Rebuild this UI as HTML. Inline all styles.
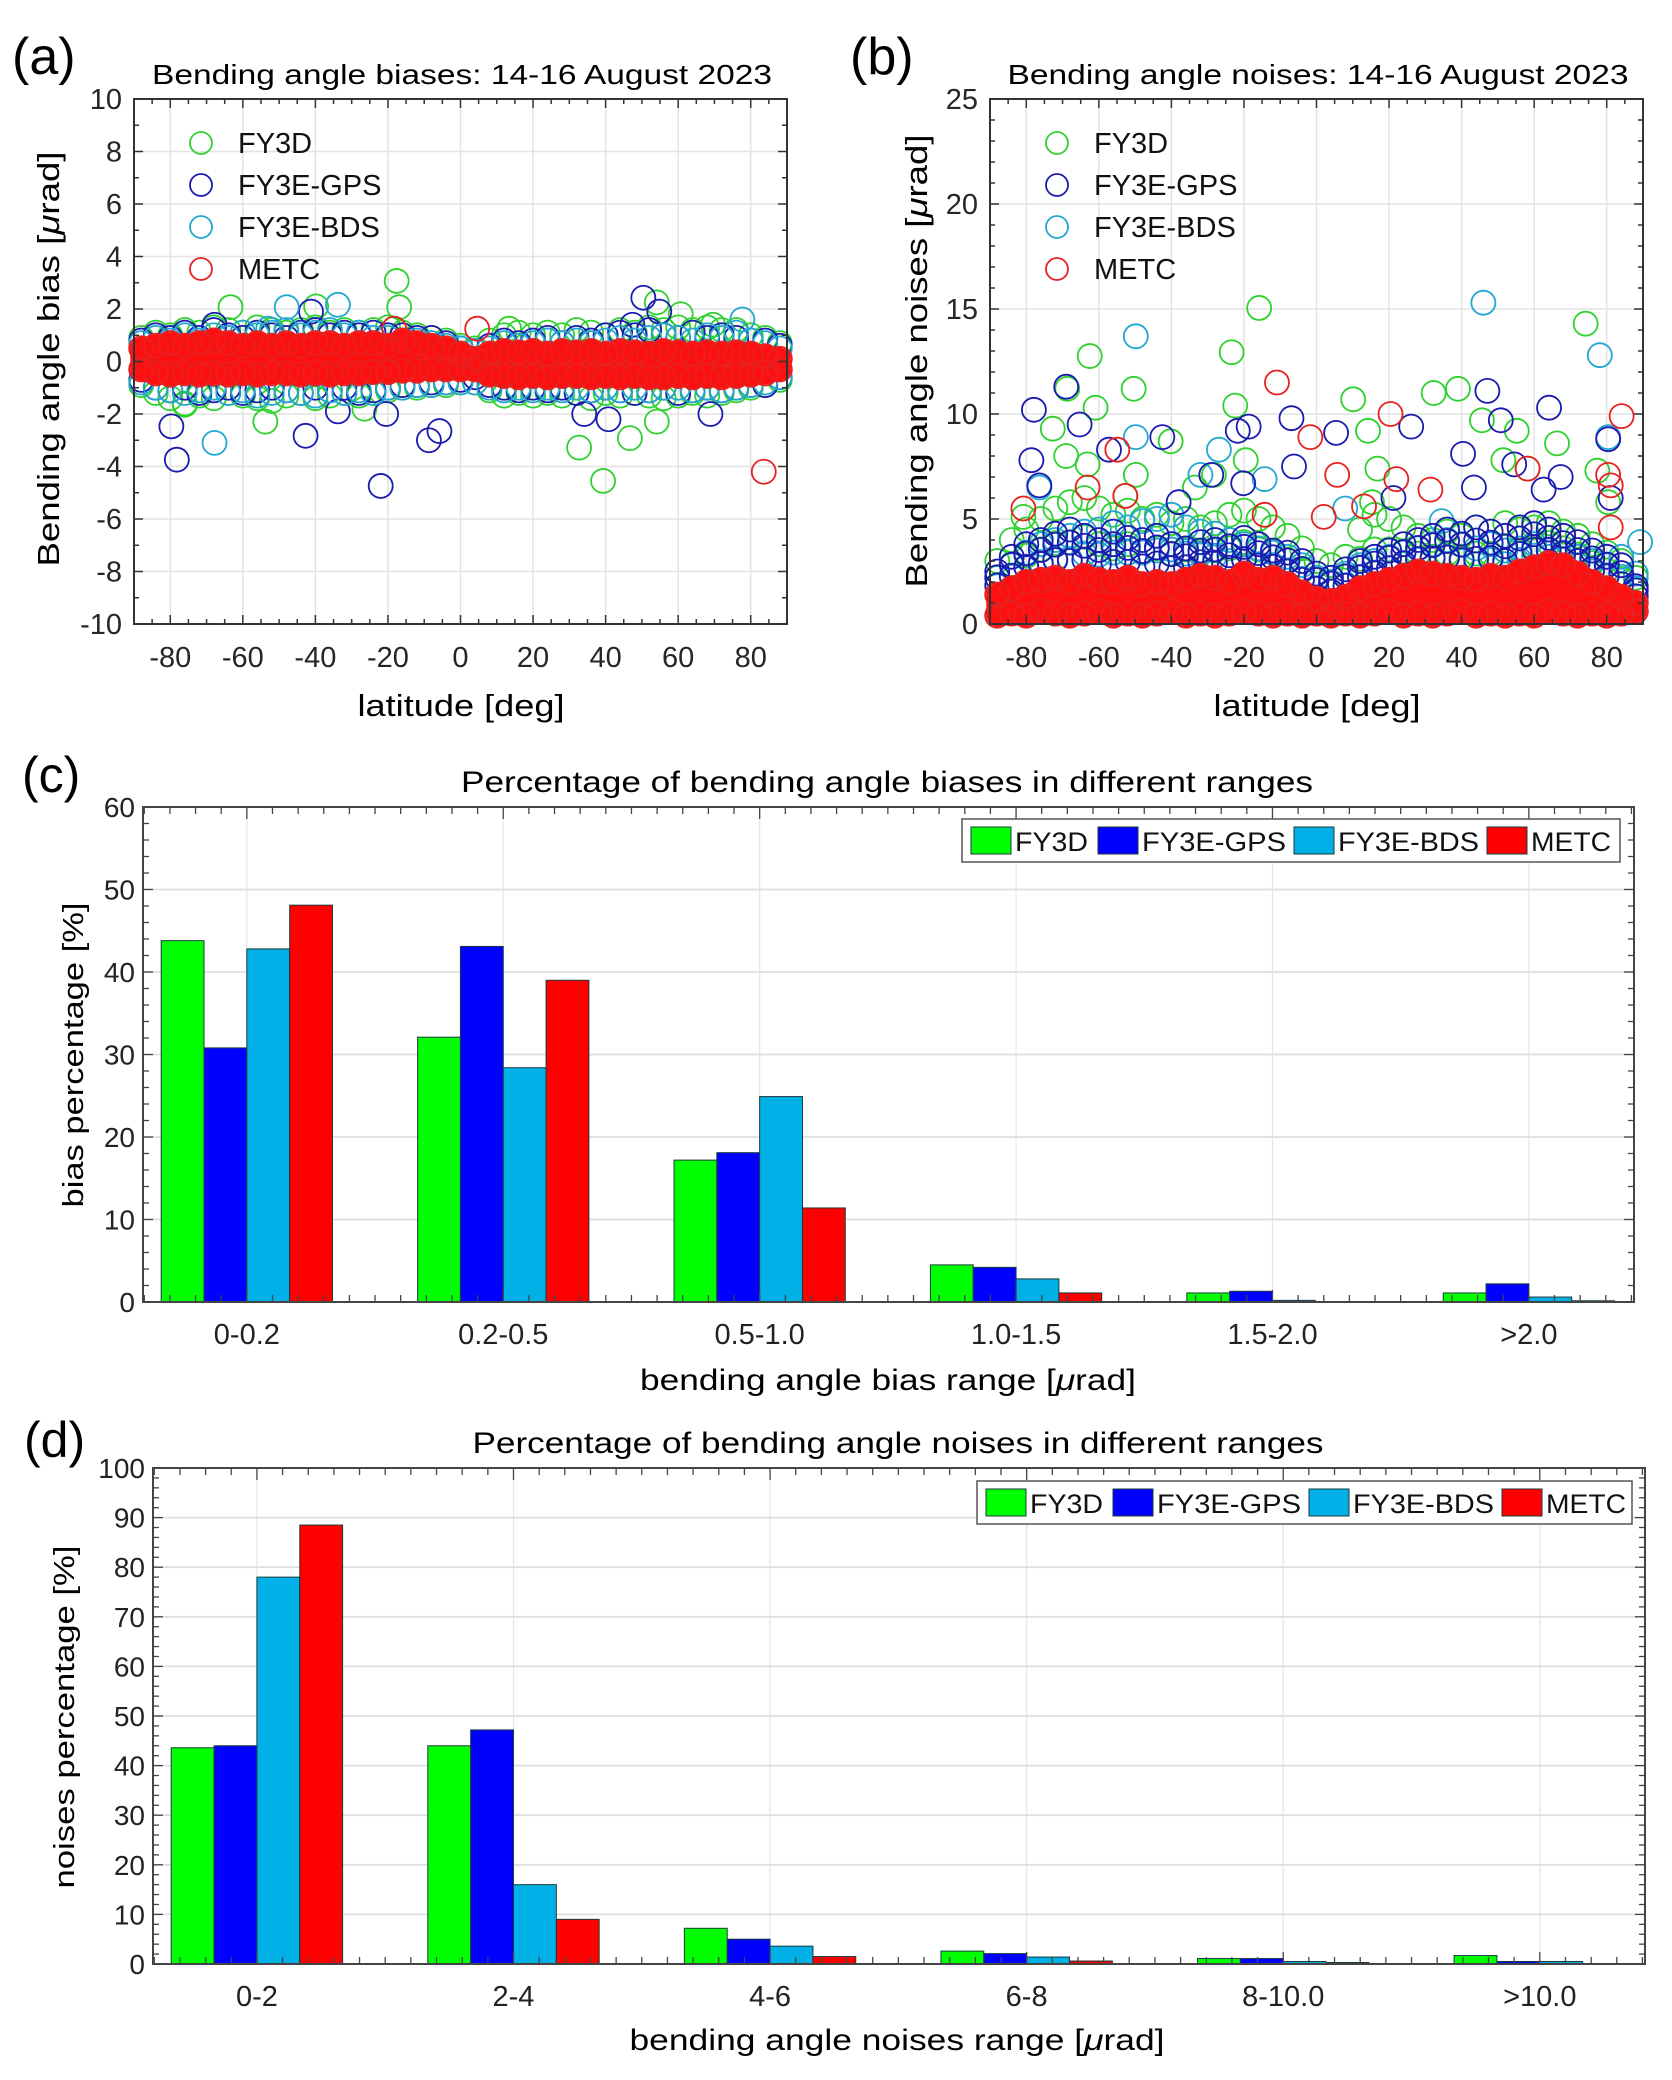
<!DOCTYPE html>
<html><head><meta charset="utf-8"><title>Bending angle biases and noises</title>
<style>
html,body{margin:0;padding:0;background:#fff;}
svg{display:block;font-family:"Liberation Sans",Arial,sans-serif;}
</style></head>
<body>
<svg id="fig" xmlns="http://www.w3.org/2000/svg" width="1672" height="2080" viewBox="0 0 1672 2080">
<rect x="0" y="0" width="1672" height="2080" fill="#fff"/>
<!-- panel labels -->
<text x="12" y="74" font-size="52">(a)</text>
<text x="850" y="74" font-size="52">(b)</text>
<text x="22" y="792" font-size="50">(c)</text>
<text x="24" y="1457" font-size="50">(d)</text>
<!-- titles -->
<text x="462" y="84" font-size="28" text-anchor="middle" textLength="620" lengthAdjust="spacingAndGlyphs">Bending angle biases: 14-16 August 2023</text>
<text x="1318" y="84" font-size="28" text-anchor="middle" textLength="621" lengthAdjust="spacingAndGlyphs">Bending angle noises: 14-16 August 2023</text>
<text x="887" y="792" font-size="30" text-anchor="middle" textLength="852" lengthAdjust="spacingAndGlyphs">Percentage of bending angle biases in different ranges</text>
<text x="898" y="1453" font-size="30" text-anchor="middle" textLength="851" lengthAdjust="spacingAndGlyphs">Percentage of bending angle noises in different ranges</text>
<!-- axis labels -->
<text transform="translate(59,359) rotate(-90)" font-size="31" text-anchor="middle" textLength="415" lengthAdjust="spacingAndGlyphs">Bending angle bias [<tspan font-style="italic">μ</tspan>rad]</text>
<text x="461" y="716" font-size="31" text-anchor="middle" textLength="207" lengthAdjust="spacingAndGlyphs">latitude [deg]</text>
<text transform="translate(927,361) rotate(-90)" font-size="31" text-anchor="middle" textLength="453" lengthAdjust="spacingAndGlyphs">Bending angle noises [<tspan font-style="italic">μ</tspan>rad]</text>
<text x="1317" y="716" font-size="31" text-anchor="middle" textLength="207" lengthAdjust="spacingAndGlyphs">latitude [deg]</text>
<text transform="translate(83,1055) rotate(-90)" font-size="29" text-anchor="middle" textLength="305" lengthAdjust="spacingAndGlyphs">bias percentage [%]</text>
<text x="888" y="1390" font-size="30" text-anchor="middle" textLength="496" lengthAdjust="spacingAndGlyphs">bending angle bias range [<tspan font-style="italic">μ</tspan>rad]</text>
<text transform="translate(74,1717) rotate(-90)" font-size="29" text-anchor="middle" textLength="343" lengthAdjust="spacingAndGlyphs">noises percentage [%]</text>
<text x="897" y="2050" font-size="30" text-anchor="middle" textLength="535" lengthAdjust="spacingAndGlyphs">bending angle noises range [<tspan font-style="italic">μ</tspan>rad]</text>
<g id="layer"></g>
</svg>
<script>
// ---------- data: scatter (a) biases ----------
const LAT = [-88,-84,-80,-76,-72,-68,-64,-60,-56,-52,-48,-44,-40,-36,-32,-28,-24,-20,-16,-12,-8,-4,0,4,8,12,16,20,24,28,32,36,40,44,48,52,56,60,64,68,72,76,80,84,88];
const aRedHi = [0.5,0.6,0.7,0.6,0.7,0.8,0.7,0.6,0.7,0.6,0.7,0.6,0.7,0.7,0.6,0.7,0.7,0.6,0.8,0.7,0.6,0.5,0.3,0.1,0.3,0.4,0.35,0.4,0.3,0.4,0.35,0.4,0.3,0.4,0.35,0.3,0.4,0.35,0.3,0.35,0.3,0.35,0.3,0.2,0.1];
const aRedLo = [-0.3,-0.45,-0.5,-0.45,-0.5,-0.45,-0.5,-0.45,-0.5,-0.45,-0.45,-0.5,-0.45,-0.5,-0.45,-0.45,-0.4,-0.4,-0.35,-0.35,-0.3,-0.3,-0.3,-0.3,-0.5,-0.55,-0.6,-0.55,-0.6,-0.55,-0.55,-0.6,-0.55,-0.6,-0.55,-0.6,-0.6,-0.55,-0.6,-0.55,-0.6,-0.55,-0.5,-0.45,-0.3];
const aBlueHi = [0.8,1.0,0.9,1.1,0.9,1.2,1.0,0.9,1.1,1.0,0.9,1.1,1.2,1.0,1.1,1.0,1.1,1.0,1.0,0.9,0.9,0.7,0.5,0.4,0.6,0.8,0.7,0.8,0.9,0.7,0.9,0.8,1.0,1.1,1.0,1.2,1.0,0.9,1.1,0.9,1.0,0.9,0.8,0.8,0.6];
const aBlueLo = [-0.7,-1.0,-1.1,-1.0,-1.2,-1.1,-1.0,-1.2,-1.1,-1.0,-1.1,-1.2,-1.0,-1.1,-1.0,-1.2,-1.1,-1.0,-0.9,-0.9,-0.8,-0.8,-0.7,-0.6,-0.9,-1.0,-1.1,-1.0,-1.1,-1.0,-1.2,-1.1,-1.0,-1.1,-1.2,-1.1,-1.0,-1.2,-1.1,-1.0,-1.1,-1.0,-0.9,-0.9,-0.6];
const aCyanHi = [0.7,0.9,0.8,1.0,0.8,1.0,0.9,1.1,1.0,1.1,1.2,1.0,1.1,1.2,1.0,1.1,0.9,0.9,0.8,0.8,0.7,0.6,0.5,0.4,0.5,0.7,0.6,0.7,0.8,0.7,0.8,0.7,0.8,0.9,0.8,0.9,1.0,0.9,0.8,1.0,0.9,1.1,0.8,0.7,0.5];
const aCyanLo = [-0.8,-1.0,-1.1,-1.2,-1.1,-1.0,-1.2,-1.1,-1.3,-1.2,-1.1,-1.2,-1.3,-1.1,-1.2,-1.1,-1.2,-1.0,-1.0,-0.9,-0.9,-0.8,-0.8,-0.8,-1.0,-1.1,-1.0,-1.1,-1.0,-1.1,-1.0,-1.1,-1.0,-1.1,-1.0,-1.1,-1.0,-1.0,-1.1,-1.0,-1.1,-1.0,-0.9,-0.8,-0.6];
const aGreenHi = [0.9,1.1,1.0,1.2,1.1,1.3,1.2,1.1,1.3,1.2,1.1,1.2,1.3,1.1,1.2,1.1,1.2,1.3,1.1,1.0,0.9,0.8,0.6,0.5,0.8,1.0,1.1,1.0,1.1,1.0,1.2,1.1,1.0,1.2,1.1,1.3,1.2,1.3,1.2,1.3,1.2,1.2,1.0,0.9,0.7];
const aGreenLo = [-0.9,-1.2,-1.4,-1.6,-1.3,-1.4,-1.2,-1.3,-1.4,-1.5,-1.3,-1.2,-1.4,-1.3,-1.2,-1.3,-1.2,-1.1,-1.0,-1.0,-0.9,-0.9,-0.8,-0.8,-1.1,-1.3,-1.2,-1.3,-1.2,-1.3,-1.2,-1.4,-1.2,-1.3,-1.2,-1.3,-1.4,-1.3,-1.2,-1.3,-1.2,-1.1,-1.0,-0.9,-0.7];
const aGreenOutLat = [-63.4,-17.6,-16.9,32.7,39.3,46.7,54.1,54.1,-53.8,-76,60.7,69.6,13.4,-26.5,-39.8];
const aGreenOutVal = [2.07,3.07,2.07,-3.28,-4.55,-2.92,-2.29,2.25,-2.29,-1.65,1.8,1.4,1.25,-1.8,2.1];
const aBlueOutLat = [-79.7,-78.2,-42.7,-22,-8.7,-5.8,50.4,54.8,34.1,40.8,68.9,-33.8,-20.5,-41.2,-67.8,47.4];
const aBlueOutVal = [-2.47,-3.74,-2.83,-4.74,-3.0,-2.65,2.43,1.9,-2.0,-2.2,-2.0,-1.9,-2.0,1.9,1.4,1.4];
const aCyanOutLat = [-67.8,-47.9,-33.8,77.7,-53];
const aCyanOutVal = [-3.1,2.07,2.16,1.6,1.25];
const aRedOutLat = [83.6,4.6,-18.3];
const aRedOutVal = [-4.2,1.25,1.25];

// ---------- data: scatter (b) noises ----------
const bRedHi = [1.4,1.7,2.0,2.1,2.2,2.0,2.3,2.1,2.0,2.2,1.9,2.0,1.9,2.1,2.3,2.2,2.0,2.4,2.1,2.2,1.9,1.5,1.2,1.1,1.3,1.7,1.9,2.1,2.3,2.5,2.4,2.3,2.2,2.1,2.3,2.2,2.5,2.7,2.9,2.8,2.4,2.0,1.7,1.3,1.0];
const bRedLo = [0.4,0.5,0.4,0.6,0.5,0.4,0.5,0.6,0.4,0.5,0.4,0.5,0.6,0.4,0.5,0.4,0.5,0.6,0.5,0.4,0.5,0.4,0.5,0.4,0.5,0.4,0.5,0.6,0.4,0.5,0.4,0.5,0.6,0.4,0.5,0.4,0.5,0.4,0.6,0.5,0.4,0.5,0.4,0.5,0.6];
const bBlueHi = [2.5,3.2,3.8,4.0,4.3,4.5,4.2,4.0,4.4,4.1,4.0,4.2,3.8,3.6,3.9,4.0,3.7,4.1,3.8,3.5,3.4,3.0,2.4,2.2,2.6,3.0,3.2,3.5,3.8,4.0,4.2,4.5,4.3,4.6,4.4,4.2,4.6,4.8,4.5,4.2,3.9,3.5,3.2,2.8,1.8];
const bCyanHi = [2.2,2.8,3.4,3.8,4.0,4.2,4.4,4.5,4.8,4.6,4.9,5.0,5.2,4.6,4.4,4.3,4.0,3.8,3.6,3.4,3.2,2.8,2.2,2.0,2.4,2.8,3.0,3.2,3.4,3.6,3.8,4.0,3.8,3.6,3.8,3.5,3.6,3.8,3.5,3.4,3.2,3.0,2.8,3.2,2.4];
const bGreenHi = [3.0,4.0,4.5,5.0,5.5,5.8,6.0,5.5,5.2,5.4,5.0,5.2,4.8,5.0,4.6,4.8,5.2,5.4,5.0,4.6,4.2,3.6,3.0,2.8,3.2,4.5,5.2,5.0,4.6,4.2,4.0,4.4,4.2,4.6,4.4,4.8,4.5,4.6,4.8,4.4,4.2,3.8,3.4,3.0,2.2];
const bGreenOutLat = [-15.8,74.2,-23.4,-62.5,-50.4,-68.7,-60.9,10.1,32.3,39,-22.4,14.2,45.6,55.2,66.3,-72.7,-69,-40.2,-63.1,-19.5,16.8,51.5,77.4,-49.8,-28.3,80.4,15.3,-80.8,-52.7,-33.5,58.2];
const bGreenOutVal = [15.05,14.3,12.94,12.76,11.2,11.2,10.3,10.7,11.0,11.2,10.4,9.2,9.7,9.2,8.6,9.3,8.0,8.7,7.6,7.8,7.4,7.8,7.3,7.1,7.1,5.8,5.8,5.1,6.1,6.5,7.4];
const bBlueOutLat = [-69,-77.9,-65.3,47.1,64.1,-6.9,-42.5,-21.7,-18.7,5.4,26.1,50.8,80.4,-78.6,40.4,-6.2,-57.2,54.5,-76.4,-20.2,-29,67.3,43.4,-38,81.1,62.6,21.2];
const bBlueOutVal = [11.3,10.2,9.5,11.1,10.3,9.8,8.9,9.2,9.4,9.1,9.4,9.7,8.8,7.8,8.1,7.5,8.3,7.6,6.6,6.7,7.1,7.0,6.5,5.8,6.0,6.4,6.0];
const bCyanOutLat = [46,-49.8,78.1,80.4,-49.8,-26.9,-76.4,-32,89.2,7.9,34.5,-14.3];
const bCyanOutVal = [15.3,13.7,12.8,8.9,8.9,8.3,6.5,7.1,3.9,5.5,4.9,6.9];
const bRedOutLat = [-10.9,84.1,20.4,-1.7,5.7,-54.9,22,80.4,81.1,-63.1,31.4,58.2,13.1,-80.8,-52.7,-14.3,81.1,2];
const bRedOutVal = [11.5,9.9,10.0,8.9,7.1,8.3,6.9,7.1,6.6,6.5,6.4,7.4,5.6,5.5,6.1,5.2,4.6,5.1];

// ---------- data: bar charts ----------
const seriesNames = ['FY3D','FY3E-GPS','FY3E-BDS','METC'];
const cCategories = ['0-0.2','0.2-0.5','0.5-1.0','1.0-1.5','1.5-2.0','>2.0'];
const cFY3D = [43.8,32.1,17.2,4.5,1.1,1.1];
const cGPS = [30.8,43.1,18.1,4.2,1.3,2.2];
const cBDS = [42.8,28.4,24.9,2.8,0.2,0.6];
const cMETC = [48.1,39.0,11.4,1.1,0.0,0.15];
const cYTicks = [0,10,20,30,40,50,60];
const dCategories = ['0-2','2-4','4-6','6-8','8-10.0','>10.0'];
const dFY3D = [43.6,44.0,7.2,2.6,1.1,1.7];
const dGPS = [44.0,47.2,5.0,2.1,1.1,0.5];
const dBDS = [78.0,16.0,3.6,1.4,0.5,0.5];
const dMETC = [88.5,9.0,1.5,0.6,0.3,0.1];
const dYTicks = [0,10,20,30,40,50,60,70,80,90,100];
const aYTicks = [-10,-8,-6,-4,-2,0,2,4,6,8,10];
const bYTicks = [0,5,10,15,20,25];
const latTicks = [-80,-60,-40,-20,0,20,40,60,80];

const NS = 'http://www.w3.org/2000/svg';
const layer = document.getElementById('layer');
function el(tag, attrs, parent) {
  const e = document.createElementNS(NS, tag);
  for (const k in attrs) e.setAttribute(k, attrs[k]);
  (parent || layer).appendChild(e);
  return e;
}
const SC = {green:'#2fd12f', blue:'#1a1ab0', cyan:'#22a8d0', red:'#e82020'};
const BC = ['#00ff00','#0000ff','#00b0e6','#ff0000'];

// ---------- scatter panels ----------
function scatterAxes(cfg) {
  const g = el('g', {});
  
  
  const xs = cfg.xs, ys = cfg.ys;
  for (const t of latTicks) {
    const l = el('line', {x1: xs(t), x2: xs(t), y1: cfg.top, y2: cfg.bot, stroke: '#e3e3e3', 'stroke-width': 1.5}, g);
    
    
  }
  for (const t of cfg.yticks) {
    const l = el('line', {x1: cfg.left, x2: cfg.right, y1: ys(t), y2: ys(t), stroke: '#e3e3e3', 'stroke-width': 1.5}, g);
    
    
  }
  return g;
}
function scatterFrame(cfg) {
  const g = el('g', {});
  
  
  const xs = cfg.xs, ys = cfg.ys;
  const r = el('rect', {x: cfg.left, y: cfg.top, width: cfg.right - cfg.left, height: cfg.bot - cfg.top, fill: 'none', stroke: '#333', 'stroke-width': 2}, g);
  
  
  for (let t = -85; t <= 85; t += 5) {
    const len = (t % 20 === 0) ? 9 : 5;
    el('line', {x1: xs(t), x2: xs(t), y1: cfg.bot, y2: cfg.bot - len, stroke: '#333', 'stroke-width': 1.5}, g);
    el('line', {x1: xs(t), x2: xs(t), y1: cfg.top, y2: cfg.top + len, stroke: '#333', 'stroke-width': 1.5}, g);
  }
  for (const t of latTicks) {
    const tx = el('text', {x: xs(t), y: cfg.bot + 43, 'font-size': 29, 'text-anchor': 'middle', fill: '#262626'}, g);
    tx.textContent = String(t);
    
    
  }
  const yt = cfg.yticks;
  const step = (yt[1] - yt[0]) / cfg.yminor;
  for (let v = yt[0]; v <= yt[yt.length - 1] + 1e-9; v += step) {
    const major = Math.abs((v - yt[0]) / (yt[1] - yt[0]) - Math.round((v - yt[0]) / (yt[1] - yt[0]))) < 1e-6;
    const len = major ? 9 : 5;
    el('line', {x1: cfg.left, x2: cfg.left + len, y1: ys(v), y2: ys(v), stroke: '#333', 'stroke-width': 1.5}, g);
    el('line', {x1: cfg.right, x2: cfg.right - len, y1: ys(v), y2: ys(v), stroke: '#333', 'stroke-width': 1.5}, g);
  }
  for (const t of yt) {
    const tx = el('text', {x: cfg.left - 12, y: ys(t) + 10, 'font-size': 29, 'text-anchor': 'end', fill: '#262626'}, g);
    tx.textContent = String(t);
    
    
  }
  // legend
  const cols = [SC.green, SC.blue, SC.cyan, SC.red];
  const ly = [143, 185, 227, 269];
  for (let i = 0; i < 4; i++) {
    const c = el('circle', {cx: cfg.legX, cy: ly[i], r: 11, fill: 'none', stroke: cols[i], 'stroke-width': 1.8}, g);
    
    
    const t = el('text', {x: cfg.legX + 37, y: ly[i] + 10, 'font-size': 29, fill: '#111'}, g);
    t.textContent = seriesNames[i];
    
    
  }
}
function circlesRow(g, xs, ys, lats, vals, color, r, sw) {
  for (let i = 0; i < lats.length; i++) {
    if (vals[i] === null) continue;
    const c = el('circle', {cx: xs(lats[i]), cy: ys(vals[i]), r: r, fill: 'none', stroke: color, 'stroke-width': sw}, g);
    
    
  }
}
function bandFill(g, xs, ys, hi, lo, color, pad) {
  let d = '';
  for (let i = 0; i < LAT.length; i++) d += (i ? 'L' : 'M') + xs(LAT[i]).toFixed(1) + ',' + (ys(hi[i]) + 0).toFixed(1);
  for (let i = LAT.length - 1; i >= 0; i--) d += 'L' + xs(LAT[i]).toFixed(1) + ',' + ys(lo[i]).toFixed(1);
  d += 'Z';
  const p = el('path', {d: d, fill: color, stroke: color, 'stroke-width': pad, 'stroke-linejoin': 'round'}, g);
  
  
}
function mid(a, b, f) { return a.map((v, i) => b[i] + (v - b[i]) * f); }

// Panel (a)
const A = {name: 'chart-a', left: 134, right: 787, top: 99, bot: 624, yticks: aYTicks, yminor: 2, legX: 201};
A.xs = l => A.left + (l + 90) / 180 * (A.right - A.left);
A.ys = v => A.top + (10 - v) / 20 * (A.bot - A.top);
scatterAxes(A);
{
  const g = el('g', {});
  
  
  const R = 12;
  circlesRow(g, A.xs, A.ys, LAT, aGreenHi, SC.green, R, 1.8);
  circlesRow(g, A.xs, A.ys, LAT, aGreenLo, SC.green, R, 1.8);
  circlesRow(g, A.xs, A.ys, aGreenOutLat, aGreenOutVal, SC.green, R, 1.8);
  circlesRow(g, A.xs, A.ys, LAT, aBlueHi, SC.blue, R, 1.8);
  circlesRow(g, A.xs, A.ys, LAT, aBlueLo, SC.blue, R, 1.8);
  circlesRow(g, A.xs, A.ys, aBlueOutLat, aBlueOutVal, SC.blue, R, 1.8);
  circlesRow(g, A.xs, A.ys, LAT, aCyanHi, SC.cyan, R, 1.8);
  circlesRow(g, A.xs, A.ys, LAT, aCyanLo, SC.cyan, R, 1.8);
  circlesRow(g, A.xs, A.ys, aCyanOutLat, aCyanOutVal, SC.cyan, R, 1.8);
  bandFill(g, A.xs, A.ys, aRedHi, aRedLo, '#ff1010', 22);
  circlesRow(g, A.xs, A.ys, LAT, aRedHi, SC.red, R, 2);
  circlesRow(g, A.xs, A.ys, LAT, aRedLo, SC.red, R, 2);
  circlesRow(g, A.xs, A.ys, aRedOutLat, aRedOutVal, SC.red, R, 1.8);
}
scatterFrame(A);

// Panel (b)
const B = {name: 'chart-b', left: 990, right: 1643, top: 99, bot: 624, yticks: bYTicks, yminor: 5, legX: 1057};
B.xs = l => B.left + (l + 90) / 180 * (B.right - B.left);
B.ys = v => B.top + (25 - v) / 25 * (B.bot - B.top);
scatterAxes(B);
{
  const g = el('g', {});
  
  
  const R = 12;
  circlesRow(g, B.xs, B.ys, LAT, bGreenHi, SC.green, R, 1.8);
  circlesRow(g, B.xs, B.ys, LAT, mid(bGreenHi, bRedHi, 0.5), SC.green, R, 1.8);
  circlesRow(g, B.xs, B.ys, bGreenOutLat, bGreenOutVal, SC.green, R, 1.8);
  circlesRow(g, B.xs, B.ys, LAT, bCyanHi, SC.cyan, R, 1.8);
  circlesRow(g, B.xs, B.ys, LAT, mid(bCyanHi, bRedHi, 0.5), SC.cyan, R, 1.8);
  circlesRow(g, B.xs, B.ys, bCyanOutLat, bCyanOutVal, SC.cyan, R, 1.8);
  circlesRow(g, B.xs, B.ys, LAT, bBlueHi, SC.blue, R, 1.8);
  circlesRow(g, B.xs, B.ys, LAT, mid(bBlueHi, bRedHi, 0.4), SC.blue, R, 1.8);
  circlesRow(g, B.xs, B.ys, LAT, mid(bBlueHi, bRedHi, 0.75), SC.blue, R, 1.8);
  circlesRow(g, B.xs, B.ys, bBlueOutLat, bBlueOutVal, SC.blue, R, 1.8);
  bandFill(g, B.xs, B.ys, bRedHi, bRedLo, '#ff1010', 22);
  circlesRow(g, B.xs, B.ys, LAT, bRedHi, SC.red, R, 2);
  circlesRow(g, B.xs, B.ys, LAT, bRedLo, SC.red, R, 2);
  circlesRow(g, B.xs, B.ys, bRedOutLat, bRedOutVal, SC.red, R, 1.8);
}
scatterFrame(B);

// ---------- bar panels ----------
function barChart(cfg) {
  const g = el('g', {});
  
  
  const x0 = 0.595, x1 = 6.41;
  const xs = v => cfg.left + (v - x0) / (x1 - x0) * (cfg.right - cfg.left);
  const ymax = cfg.yticks[cfg.yticks.length - 1];
  const ys = v => cfg.bot - v / ymax * (cfg.bot - cfg.top);
  // grid
  for (let i = 0; i < cfg.cats.length; i++) {
    const l = el('line', {x1: xs(i + 1), x2: xs(i + 1), y1: cfg.top, y2: cfg.bot, stroke: '#e6e6e6', 'stroke-width': 1.2}, g);
    
    
  }
  for (const t of cfg.yticks) {
    const l = el('line', {x1: cfg.left, x2: cfg.right, y1: ys(t), y2: ys(t), stroke: '#dedede', 'stroke-width': 1.8}, g);
    
    
  }
  // bars
  const w = 0.167;
  const series = cfg.series;
  for (let k = 0; k < series.length; k++) {
    for (let i = 0; i < cfg.cats.length; i++) {
      const v = series[k][i];
      const cx = i + 1 + (k - 1.5) * w;
      const xa = xs(cx - w / 2), xb = xs(cx + w / 2);
      const b = el('rect', {x: xa, y: ys(v), width: xb - xa, height: Math.max(0, ys(0) - ys(v)), fill: BC[k], stroke: '#1a3a3a', 'stroke-width': 1}, g);
      
      
    }
  }
  // frame
  const r = el('rect', {x: cfg.left, y: cfg.top, width: cfg.right - cfg.left, height: cfg.bot - cfg.top, fill: 'none', stroke: '#444', 'stroke-width': 2}, g);
  
  
  for (let v = 0.6; v <= 6.4; v += 0.1) {
    const major = Math.abs(v - Math.round(v)) < 0.01;
    const len = major ? 12 : 7;
    el('line', {x1: xs(v), x2: xs(v), y1: cfg.bot, y2: cfg.bot - len, stroke: '#444', 'stroke-width': 1.3}, g);
    el('line', {x1: xs(v), x2: xs(v), y1: cfg.top, y2: cfg.top + len, stroke: '#444', 'stroke-width': 1.3}, g);
  }
  const ystep = (cfg.yticks[1] - cfg.yticks[0]) / 5;
  for (let v = 0; v <= ymax + 1e-9; v += ystep) {
    const major = Math.abs(v / (cfg.yticks[1] - cfg.yticks[0]) - Math.round(v / (cfg.yticks[1] - cfg.yticks[0]))) < 1e-6;
    const len = major ? 10 : 6;
    el('line', {x1: cfg.left, x2: cfg.left + len, y1: ys(v), y2: ys(v), stroke: '#444', 'stroke-width': 1.3}, g);
    el('line', {x1: cfg.right, x2: cfg.right - len, y1: ys(v), y2: ys(v), stroke: '#444', 'stroke-width': 1.3}, g);
  }
  for (const t of cfg.yticks) {
    const tx = el('text', {x: cfg.left - 8, y: ys(t) + 10, 'font-size': 28, 'text-anchor': 'end', fill: '#222'}, g);
    tx.textContent = String(t);
    
    
  }
  for (let i = 0; i < cfg.cats.length; i++) {
    const tx = el('text', {x: xs(i + 1), y: cfg.bot + 42, 'font-size': 29, 'text-anchor': 'middle', fill: '#222'}, g);
    tx.textContent = cfg.cats[i];
    
    
  }
  // legend
  const lg = el('g', {}, g);
  
  
  const box = el('rect', {x: cfg.leg[0], y: cfg.leg[1], width: cfg.leg[2], height: 43, fill: '#fff', stroke: '#555', 'stroke-width': 1.5}, lg);
  
  
  for (let k = 0; k < 4; k++) {
    const sx = cfg.sw[k];
    const s = el('rect', {x: sx, y: cfg.leg[1] + 8, width: 40, height: 27, fill: BC[k], stroke: '#1a3a3a', 'stroke-width': 1}, lg);
    
    
    const t = el('text', {x: sx + 44, y: cfg.leg[1] + 32, 'font-size': 27, fill: '#111', textLength: cfg.tw[k], lengthAdjust: 'spacingAndGlyphs'}, lg);
    t.textContent = seriesNames[k];
    
    
  }
}
barChart({name: 'chart-c', left: 143, right: 1634, top: 807, bot: 1302, cats: cCategories, yticks: cYTicks,
  series: [cFY3D, cGPS, cBDS, cMETC], leg: [962, 819, 658], sw: [971, 1098, 1294, 1487], tw: [73, 144, 141, 80]});
barChart({name: 'chart-d', left: 153, right: 1645, top: 1468, bot: 1964, cats: dCategories, yticks: dYTicks,
  series: [dFY3D, dGPS, dBDS, dMETC], leg: [977, 1481, 655], sw: [986, 1113, 1309, 1502], tw: [73, 144, 141, 80]});
</script>
</body></html>
